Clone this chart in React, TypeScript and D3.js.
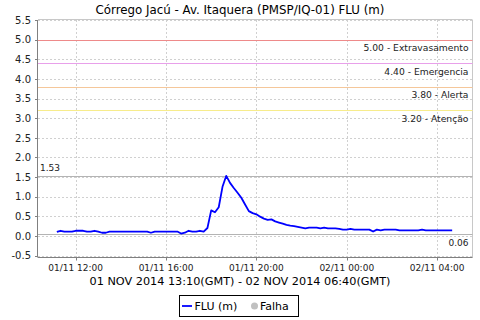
import React from "react";
import * as d3 from "d3";

const title = "Córrego Jacú - Av. Itaquera (PMSP/IQ-01) FLU (m)";
const axisTitle = "01 NOV 2014 13:10(GMT) - 02 NOV 2014 06:40(GMT)";
const seriesName = "FLU (m)";
const failName = "Falha";

// samples every 10 minutes, local time 01/11 11:10 -> 02/11 04:40
const startTime = new Date(2014, 10, 1, 11, 10);
const stepMinutes = 10;
const fluValues = [
  0.10, 0.13, 0.11, 0.11, 0.11,
  0.13, 0.13, 0.13, 0.11, 0.11, 0.13,
  0.11, 0.08, 0.08, 0.11, 0.11, 0.11,
  0.11, 0.11, 0.11, 0.11, 0.11, 0.11,
  0.11, 0.11, 0.08, 0.11, 0.11, 0.11,
  0.11, 0.11, 0.11, 0.11, 0.06, 0.08,
  0.13, 0.11, 0.11, 0.13, 0.11, 0.20,
  0.65, 0.60, 0.73, 1.25, 1.53, 1.35,
  1.22, 1.10, 0.97, 0.80, 0.63, 0.58,
  0.55, 0.49, 0.44, 0.41, 0.42, 0.37,
  0.34, 0.31, 0.28, 0.26, 0.25, 0.23,
  0.21, 0.19, 0.21, 0.21, 0.21, 0.19,
  0.21, 0.19, 0.19, 0.19, 0.18, 0.16,
  0.16, 0.18, 0.16, 0.16, 0.16, 0.16,
  0.16, 0.11, 0.16, 0.14, 0.16, 0.16,
  0.16, 0.16, 0.14, 0.14, 0.14, 0.14,
  0.14, 0.14, 0.16, 0.14, 0.14, 0.14,
  0.14, 0.14, 0.14, 0.14, 0.14,
];

const thresholdValues = [5.0, 4.4, 3.8, 3.2];
const thresholdNames = ["Extravasamento", "Emergencia", "Alerta", "Atenção"];
const thresholdColors = ["#ee8a8a", "#e8a0ea", "#f5c79a", "#f7ec8c"];

const yTicks = [-0.5, 0.0, 0.5, 1.0, 1.5, 2.0, 2.5, 3.0, 3.5, 4.0, 4.5, 5.0, 5.5];
const yDomain = [-0.5, 5.5];
const xDomain = [new Date(2014, 10, 1, 10, 20), new Date(2014, 10, 2, 5, 34)];

const FONT = "DejaVu Sans, sans-serif";

export default function App() {
  const left = 38, right = 472.5, top = 20, bottom = 255.5;
  const x = d3.scaleTime().domain(xDomain).range([left, right]);
  const y = d3.scaleLinear().domain(yDomain).range([bottom, top]);
  const times = fluValues.map((_, i) => d3.timeMinute.offset(startTime, i * stepMinutes));
  const data = fluValues.map((v, i) => ({ t: times[i], v }));
  const xTicks = x.ticks(d3.timeHour.every(4));
  const fmt = d3.timeFormat("%d/%m %H:%M");
  const line = d3
    .line<{ t: Date; v: number }>()
    .x((d) => x(d.t))
    .y((d) => y(d.v));
  const maxV = d3.max(fluValues) as number;
  const minV = d3.min(fluValues) as number;
  const axisY = 257.5;

  return (
    <svg
      width={480}
      height={320}
      style={{ position: "absolute", left: 0, top: 0, background: "#fff" }}
      fontFamily={FONT}
    >
      <rect x={0} y={0} width={480} height={320} fill="#fff" />
      <text x={240} y={14} textAnchor="middle" fontSize={11.5} fill="#000" textLength={289} lengthAdjust="spacingAndGlyphs">
        {title}
      </text>

      {/* grid */}
      {yTicks.map((t) => (
        <line key={"gy" + t} x1={left} x2={right} y1={Math.round(y(t)) + 0.5} y2={Math.round(y(t)) + 0.5}
          stroke="#d0d0d0" strokeDasharray="2,2" />
      ))}
      {xTicks.map((t, i) => (
        <line key={"gx" + i} x1={Math.round(x(t)) + 0.5} x2={Math.round(x(t)) + 0.5} y1={top} y2={axisY}
          stroke="#d0d0d0" strokeDasharray="2,2" />
      ))}

      {/* frame */}
      <line x1={left} x2={right} y1={top - 0.5} y2={top - 0.5} stroke="#c8c8c8" />
      <line x1={right} x2={right} y1={top} y2={axisY} stroke="#c8c8c8" />

      {/* threshold markers */}
      {thresholdValues.map((v, i) => (
        <g key={"th" + i}>
          <line x1={left} x2={right} y1={Math.round(y(v)) + 0.5} y2={Math.round(y(v)) + 0.5}
            stroke={thresholdColors[i]} strokeWidth={1.2} />
          <text x={468.5} y={y(v) + 11.5} textAnchor="end" fontSize={9.2} fill="#222">
            {v.toFixed(2) + " - " + thresholdNames[i]}
          </text>
        </g>
      ))}

      {/* max/min markers */}
      <line x1={left} x2={right} y1={Math.round(y(maxV)) + 0.5} y2={Math.round(y(maxV)) + 0.5} stroke="#b4b4b4" />
      <text x={40} y={y(maxV) - 5} fontSize={9} fill="#222">{maxV.toFixed(2)}</text>
      <line x1={left} x2={right} y1={Math.round(y(minV)) + 0.5} y2={Math.round(y(minV)) + 0.5} stroke="#b4b4b4" />
      <text x={468.5} y={y(minV) + 12.5} textAnchor="end" fontSize={9} fill="#222">{minV.toFixed(2)}</text>

      {/* series */}
      <path d={line(data) || ""} fill="none" stroke="#0000ff" strokeWidth={1.8} strokeLinejoin="round" />

      {/* axes */}
      <line x1={left - 0.5} x2={left - 0.5} y1={top} y2={axisY} stroke="#808080" />
      <line x1={left} x2={right} y1={axisY} y2={axisY} stroke="#808080" />
      {yTicks.map((t) => (
        <g key={"yt" + t}>
          <line x1={left - 3} x2={left} y1={Math.round(y(t)) + 0.5} y2={Math.round(y(t)) + 0.5} stroke="#808080" />
          <text x={31} y={y(t) + 3.8} textAnchor="end" fontSize={10} fill="#222">{t.toFixed(1)}</text>
        </g>
      ))}
      {xTicks.map((t, i) => (
        <g key={"xt" + i}>
          <line x1={Math.round(x(t)) + 0.5} x2={Math.round(x(t)) + 0.5} y1={axisY} y2={axisY + 3} stroke="#808080" />
          <text x={x(t)} y={270.5} textAnchor="middle" fontSize={9} fill="#222">{fmt(t)}</text>
        </g>
      ))}
      <text x={240} y={285} textAnchor="middle" fontSize={11} fill="#000" textLength={301} lengthAdjust="spacingAndGlyphs">
        {axisTitle}
      </text>

      {/* legend */}
      <rect x={179.5} y={295.5} width={119} height={21} fill="#fff" stroke="#000" />
      <line x1={182} x2={192} y1={306} y2={306} stroke="#0000ff" strokeWidth={1.8} />
      <text x={194.5} y={310} fontSize={11} fill="#000">{seriesName}</text>
      <circle cx={254.5} cy={306} r={3.5} fill="#c0c0c0" />
      <text x={260} y={310} fontSize={11} fill="#000">{failName}</text>
    </svg>
  );
}
